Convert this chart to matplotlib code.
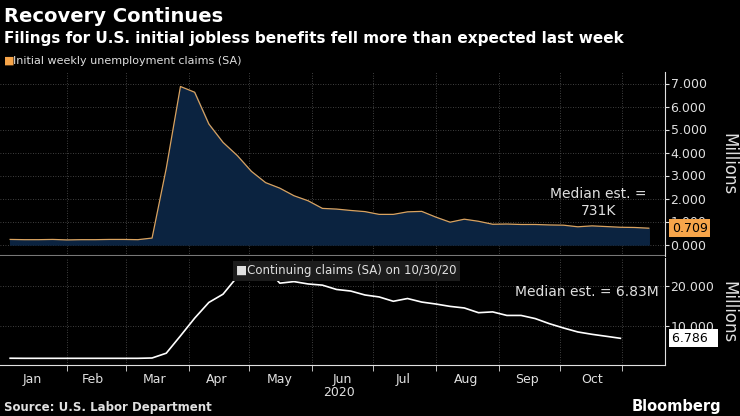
import matplotlib
matplotlib.use("Agg")
import matplotlib.pyplot as plt
import pandas as pd

# initial claims, weekly from Jan 4 2020 (millions)
initial = [0.22, 0.21, 0.21, 0.22,
           0.20, 0.21, 0.21, 0.22, 0.22,
           0.21, 0.28, 3.31, 6.87,
           6.62, 5.24, 4.44, 3.87,
           3.18, 2.69, 2.45, 2.12, 1.90,
           1.57, 1.54, 1.48, 1.43,
           1.31, 1.31, 1.42, 1.44,
           1.19, 0.97, 1.10, 1.01, 0.88,
           0.89, 0.87, 0.87, 0.85,
           0.84, 0.77, 0.81, 0.78, 0.75,
           0.74, 0.709]
# continuing claims, weekly from Jan 4 2020 (millions)
continuing = [1.72, 1.70, 1.70, 1.70, 1.70, 1.70, 1.70, 1.70, 1.70, 1.70,
              1.78, 3.0, 7.4, 11.9, 15.9, 18.0, 22.4, 22.5, 24.9, 20.8,
              21.2, 20.6, 20.3, 19.2, 18.8, 17.8, 17.3, 16.2, 16.9, 16.0,
              15.5, 14.9, 14.5, 13.3, 13.5, 12.6, 12.6, 11.8, 10.5, 9.4,
              8.4, 7.8, 7.3, 6.786]
top_ticks = [0, 1, 2, 3, 4, 5, 6, 7]
top_labels = ["0.000", "1.000", "2.000", "3.000", "4.000", "5.000", "6.000", "7.000"]
bot_ticks = [10, 20]
bot_labels = ["10.000", "20.000"]
months = ["Jan", "Feb", "Mar", "Apr", "May", "Jun", "Jul", "Aug", "Sep", "Oct"]
month_pos = ["2020-01-15", "2020-02-14", "2020-03-15", "2020-04-15", "2020-05-16",
             "2020-06-16", "2020-07-16", "2020-08-16", "2020-09-15", "2020-10-17"]

d1 = pd.date_range("2020-01-04", periods=len(initial), freq="7D")
d2 = pd.date_range("2020-01-04", periods=len(continuing), freq="7D")

bg = "black"
fg = "#e0e0e0"
grid = "#555555"
fig = plt.figure(figsize=(7.4, 4.16), dpi=100, facecolor=bg)
W, H = 740, 416
ax1 = fig.add_axes([0, 1 - 256 / H, 665 / W, (256 - 72) / H], facecolor=bg)
ax2 = fig.add_axes([0, 1 - 365 / H, 665 / W, (365 - 258) / H], facecolor=bg)

xmin, xmax = pd.Timestamp("2019-12-30"), pd.Timestamp("2020-11-22")
gridx = pd.date_range("2020-02-01", "2020-11-01", freq="MS")
for ax in (ax1, ax2):
    ax.set_xlim(xmin, xmax)
    for s in ["top", "left", "bottom"]:
        ax.spines[s].set_visible(False)
    ax.spines["right"].set_color(fg)
    ax.yaxis.tick_right()
    ax.tick_params(axis="y", colors=fg, labelsize=9, length=3, pad=1)
    for g in gridx:
        ax.axvline(g, color=grid, lw=0.6, ls=(0, (1, 2)), zorder=0)

ax1.fill_between(d1, initial, color="#0b2340", zorder=1)
ax1.plot(d1, initial, color="#d9a25f", lw=0.9, zorder=2)
ax1.set_ylim(-0.5, 7.5)
ax1.set_yticks(top_ticks, top_labels)
for t in top_ticks:
    ax1.axhline(t, color=grid, lw=0.6, ls=(0, (1, 2)), zorder=0)
ax1.set_xticks([])
ax1.axhline(-0.5, color="#777777", lw=1.5)
ax1.text(1.095, 0.5, "Millions", transform=ax1.transAxes, rotation=-90,
         color=fg, fontsize=12, va="center", ha="center")
ax1.text(0.9, 0.29, "Median est. =\n731K", transform=ax1.transAxes,
         color=fg, fontsize=10, ha="center", va="center", linespacing=1.3)
ax1.text(1.01, 0.709, "0.709", transform=ax1.get_yaxis_transform(),
         color="black", fontsize=9, va="center", ha="left",
         bbox=dict(boxstyle="square,pad=0.2", fc="#f7a54a", ec="none"))

ax2.plot(d2, continuing, color="white", lw=1.2)
ax2.set_ylim(0, 27.2)
ax2.set_yticks(bot_ticks, bot_labels)
for t in bot_ticks:
    ax2.axhline(t, color=grid, lw=0.6, ls=(0, (1, 2)), zorder=0)
ax2.text(1.095, 0.49, "Millions", transform=ax2.transAxes, rotation=-90,
         color=fg, fontsize=12, va="center", ha="center")
ax2.text(0.99, 0.68, "Median est. = 6.83M", transform=ax2.transAxes,
         color=fg, fontsize=10, ha="right", va="center")
ax2.text(1.01, 6.786, "6.786  ", transform=ax2.get_yaxis_transform(),
         color="black", fontsize=9, va="center", ha="left",
         bbox=dict(boxstyle="square,pad=0.2", fc="white", ec="none"))
ax2.text(0.355, 0.88, "\u25A0Continuing claims (SA) on 10/30/20", transform=ax2.transAxes,
         color=fg, fontsize=8.5, va="center", ha="left",
         bbox=dict(boxstyle="square,pad=0.3", fc="#1c1c1c", ec="none"))

ax2.set_xticks(pd.to_datetime(month_pos), months)
ax2.tick_params(axis="x", colors=fg, labelsize=9, length=0, pad=6)
ax2.set_xticks(gridx, minor=True)
ax2.tick_params(axis="x", which="minor", length=4, color=fg)
ax2.spines["bottom"].set_visible(True)
ax2.spines["bottom"].set_color(fg)
fig.text(339 / W, 1 - 393 / H, "2020", color=fg, fontsize=9, ha="center", va="center")

fig.text(0.005, 1 - 16 / H, "Recovery Continues", color="white", fontsize=14,
         fontweight="bold", va="center")
fig.text(0.005, 1 - 38 / H, "Filings for U.S. initial jobless benefits fell more than expected last week",
         color="white", fontsize=11, fontweight="bold", va="center")
fig.text(0.005, 1 - 61 / H, "\u25A0", color="#f7a54a", fontsize=8, va="center")
fig.text(0.018, 1 - 61 / H, "Initial weekly unemployment claims (SA)", color=fg,
         fontsize=8, va="center")
fig.text(0.005, 1 - 407 / H, "Source: U.S. Labor Department", color=fg, fontsize=8.5,
         fontweight="bold", va="center")
fig.text(0.975, 1 - 407 / H, "Bloomberg", color="white", fontsize=10.5,
         fontweight="bold", va="center", ha="right")

fig.savefig("out.png", dpi=100, facecolor=bg)
